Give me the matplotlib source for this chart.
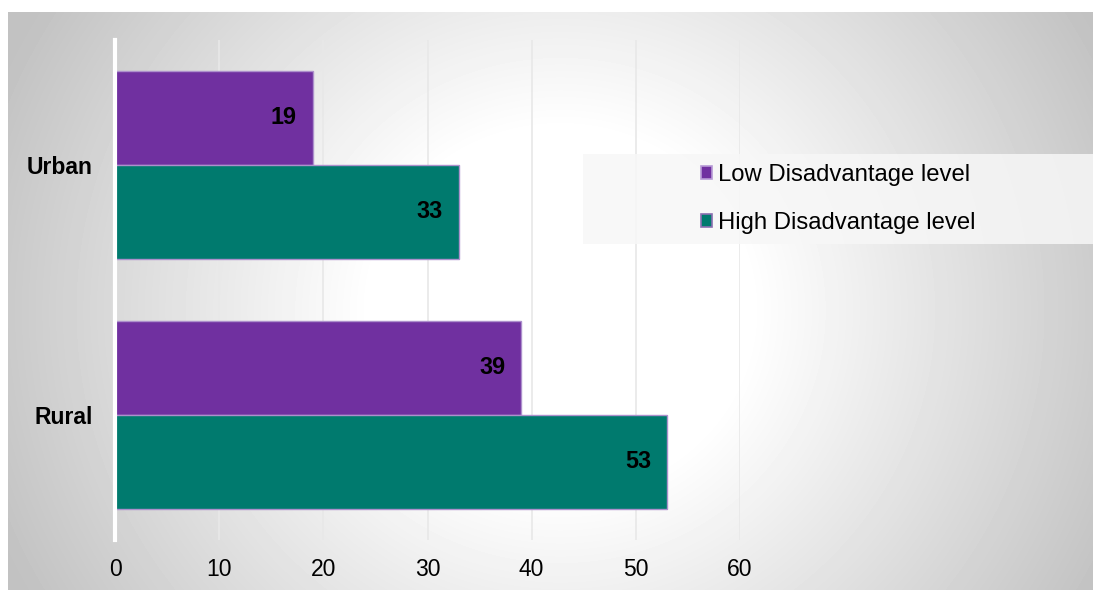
import numpy as np
import matplotlib
matplotlib.use("Agg")
import matplotlib.pyplot as plt
from matplotlib.patches import Patch, Rectangle

# === data ===
categories = ["Rural", "Urban"]
low_values = [39, 19]
high_values = [53, 33]
series_names = ["Low Disadvantage level", "High Disadvantage level"]
x_ticks = [0, 10, 20, 30, 40, 50, 60]

PURPLE = "#7030A0"
TEAL = "#007A6E"
EDGE = "#ad90cc"
FS = 16.5

plt.rcParams["font.family"] = ["Liberation Sans", "DejaVu Sans"]

W, H = 1093, 590
fig = plt.figure(figsize=(W / 100, H / 100), dpi=100)
fig.patch.set_facecolor("white")

# === background: radial grey -> white gradient ===
bg = fig.add_axes([8 / W, 0, 1 - 8 / W, (H - 12) / H], zorder=0)
xx, yy = np.meshgrid(np.arange(8, W), np.arange(12, H))
r = np.hypot(xx - 560, (yy - 310) * 1.05)
v = 1 - 0.24 * np.clip((r - 190) / (610 - 190), 0, 1)
bg.imshow(v, cmap="gray", vmin=0, vmax=1, aspect="auto",
          extent=(0, 1, 0, 1), origin="upper", interpolation="bilinear")
bg.axis("off")

# === bars ===
ax = fig.add_axes([115 / W, 1 - 540 / H, 625 / W, 500 / H], zorder=2)
ax.set_facecolor("none")
y = np.arange(len(categories))
h = 0.376
b_low = ax.barh(y + h / 2, low_values, height=h, color=PURPLE,
                edgecolor=EDGE, linewidth=1, zorder=3)
b_high = ax.barh(y - h / 2, high_values, height=h, color=TEAL,
                 edgecolor=EDGE, linewidth=1, zorder=3)

for bars, vals in [(b_low, low_values), (b_high, high_values)]:
    for rect, val in zip(bars, vals):
        ax.annotate(str(val), (rect.get_width(), rect.get_y() + rect.get_height() / 2),
                    xytext=(-11.5, 0), textcoords="offset points",
                    ha="right", va="center", fontsize=16.8, fontweight="bold",
                    color="black", zorder=4)

ax.set_xlim(0, 60)
ax.set_ylim(-0.5, 1.5)
ax.set_xticks(x_ticks)
ax.set_xticklabels([str(t) for t in x_ticks], fontsize=FS)
ax.set_yticks(y)
ax.set_yticklabels(categories, fontsize=FS, fontweight="bold")
ax.tick_params(axis="both", length=0)
ax.tick_params(axis="x", pad=13)
ax.tick_params(axis="y", pad=16)
ax.xaxis.grid(True, color="#e8e8e8", linewidth=1.2, zorder=1)
ax.set_axisbelow(True)
for s in ["top", "right", "bottom"]:
    ax.spines[s].set_visible(False)
ax.spines["left"].set_color("white")
ax.spines["left"].set_linewidth(3)
ax.spines["left"].set_zorder(5)

# === legend ===
fig.patches.append(Rectangle((583 / W, 1 - 244 / H), 1 - 583 / W, 90 / H,
                             transform=fig.transFigure, facecolor="#f7f7f7",
                             alpha=0.85, edgecolor="none", zorder=3))
handles = [Patch(facecolor=PURPLE, edgecolor="#b79ad6", linewidth=1.2),
           Patch(facecolor=TEAL, edgecolor="#8a6fb0", linewidth=1.2)]
leg = fig.legend(handles, series_names, loc="center left",
                 bbox_to_anchor=(701 / W, 1 - 199 / H), frameon=False,
                 fontsize=17.2, handlelength=0.48, handleheight=0.48,
                 handletextpad=0.22, labelspacing=1.08, borderpad=0,
                 borderaxespad=0)
leg.set_zorder(4)

fig.savefig("out.png", dpi=100, facecolor="white")
